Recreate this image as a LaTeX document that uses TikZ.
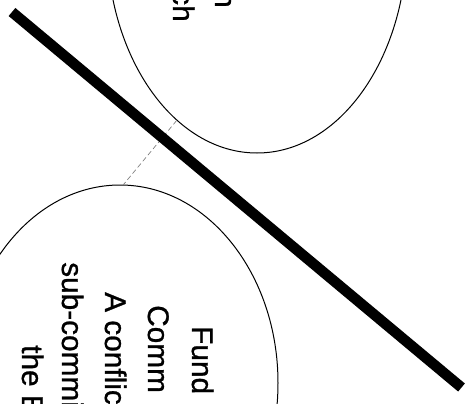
\documentclass[tikz,border=0pt]{standalone}
\usepackage{fontspec}
\setmainfont{Liberation Sans}
\newfontfamily\bubblefont{Liberation Sans}[FakeBold=0.9]
\usetikzlibrary{shapes.geometric}
\begin{document}
\begin{tikzpicture}[x=1pt,y=-1pt,
  bubble/.style={draw=black, line width=1pt, ellipse, inner sep=0pt},
  vtext/.style={rotate=-90, anchor=base west, inner sep=0pt, font=\bubblefont\fontsize{29.8}{36}\selectfont},
  vtextend/.style={vtext, anchor=base east},
  link/.style={draw=black!55, dash pattern=on 5pt off 3pt, line width=0.6pt},
  bar/.style={line width=10.5pt, line cap=butt}]
\useasboundingbox (0,0) rectangle (471,404);
\clip (0,0) rectangle (471,404);
\fill[white] (0,0) rectangle (471,404);
% ellipses
\node[bubble, minimum width=300pt, minimum height=426pt] (upper) at (257,-60) {};
\node[bubble, minimum width=316pt, minimum height=396pt] (lower) at (120,383) {};
% texts of the upper ellipse
\node[vtextend] (u1) at (215,8) {n};
\node[vtextend] (u2) at (173,22) {ch};
% texts of the lower ellipse
\node[vtext] (l1) at (192,326) {Fund};
\node[vtext] (l2) at (148,305) {Comm};
\node[vtext] (l3) at (105,292) {A conflic};
\node[vtext] (l4) at (62,262) {sub-commi};
\node[vtext] (l5) at (22,345) {the B};
% dashed connector
\draw[link] (upper.246) -- (lower.89.5);
% thick bar
\coordinate (b1) at (12,12);
\coordinate (b2) at (461.5,387.5);
\draw[bar] (b1) -- (b2);
\end{tikzpicture}
\end{document}
